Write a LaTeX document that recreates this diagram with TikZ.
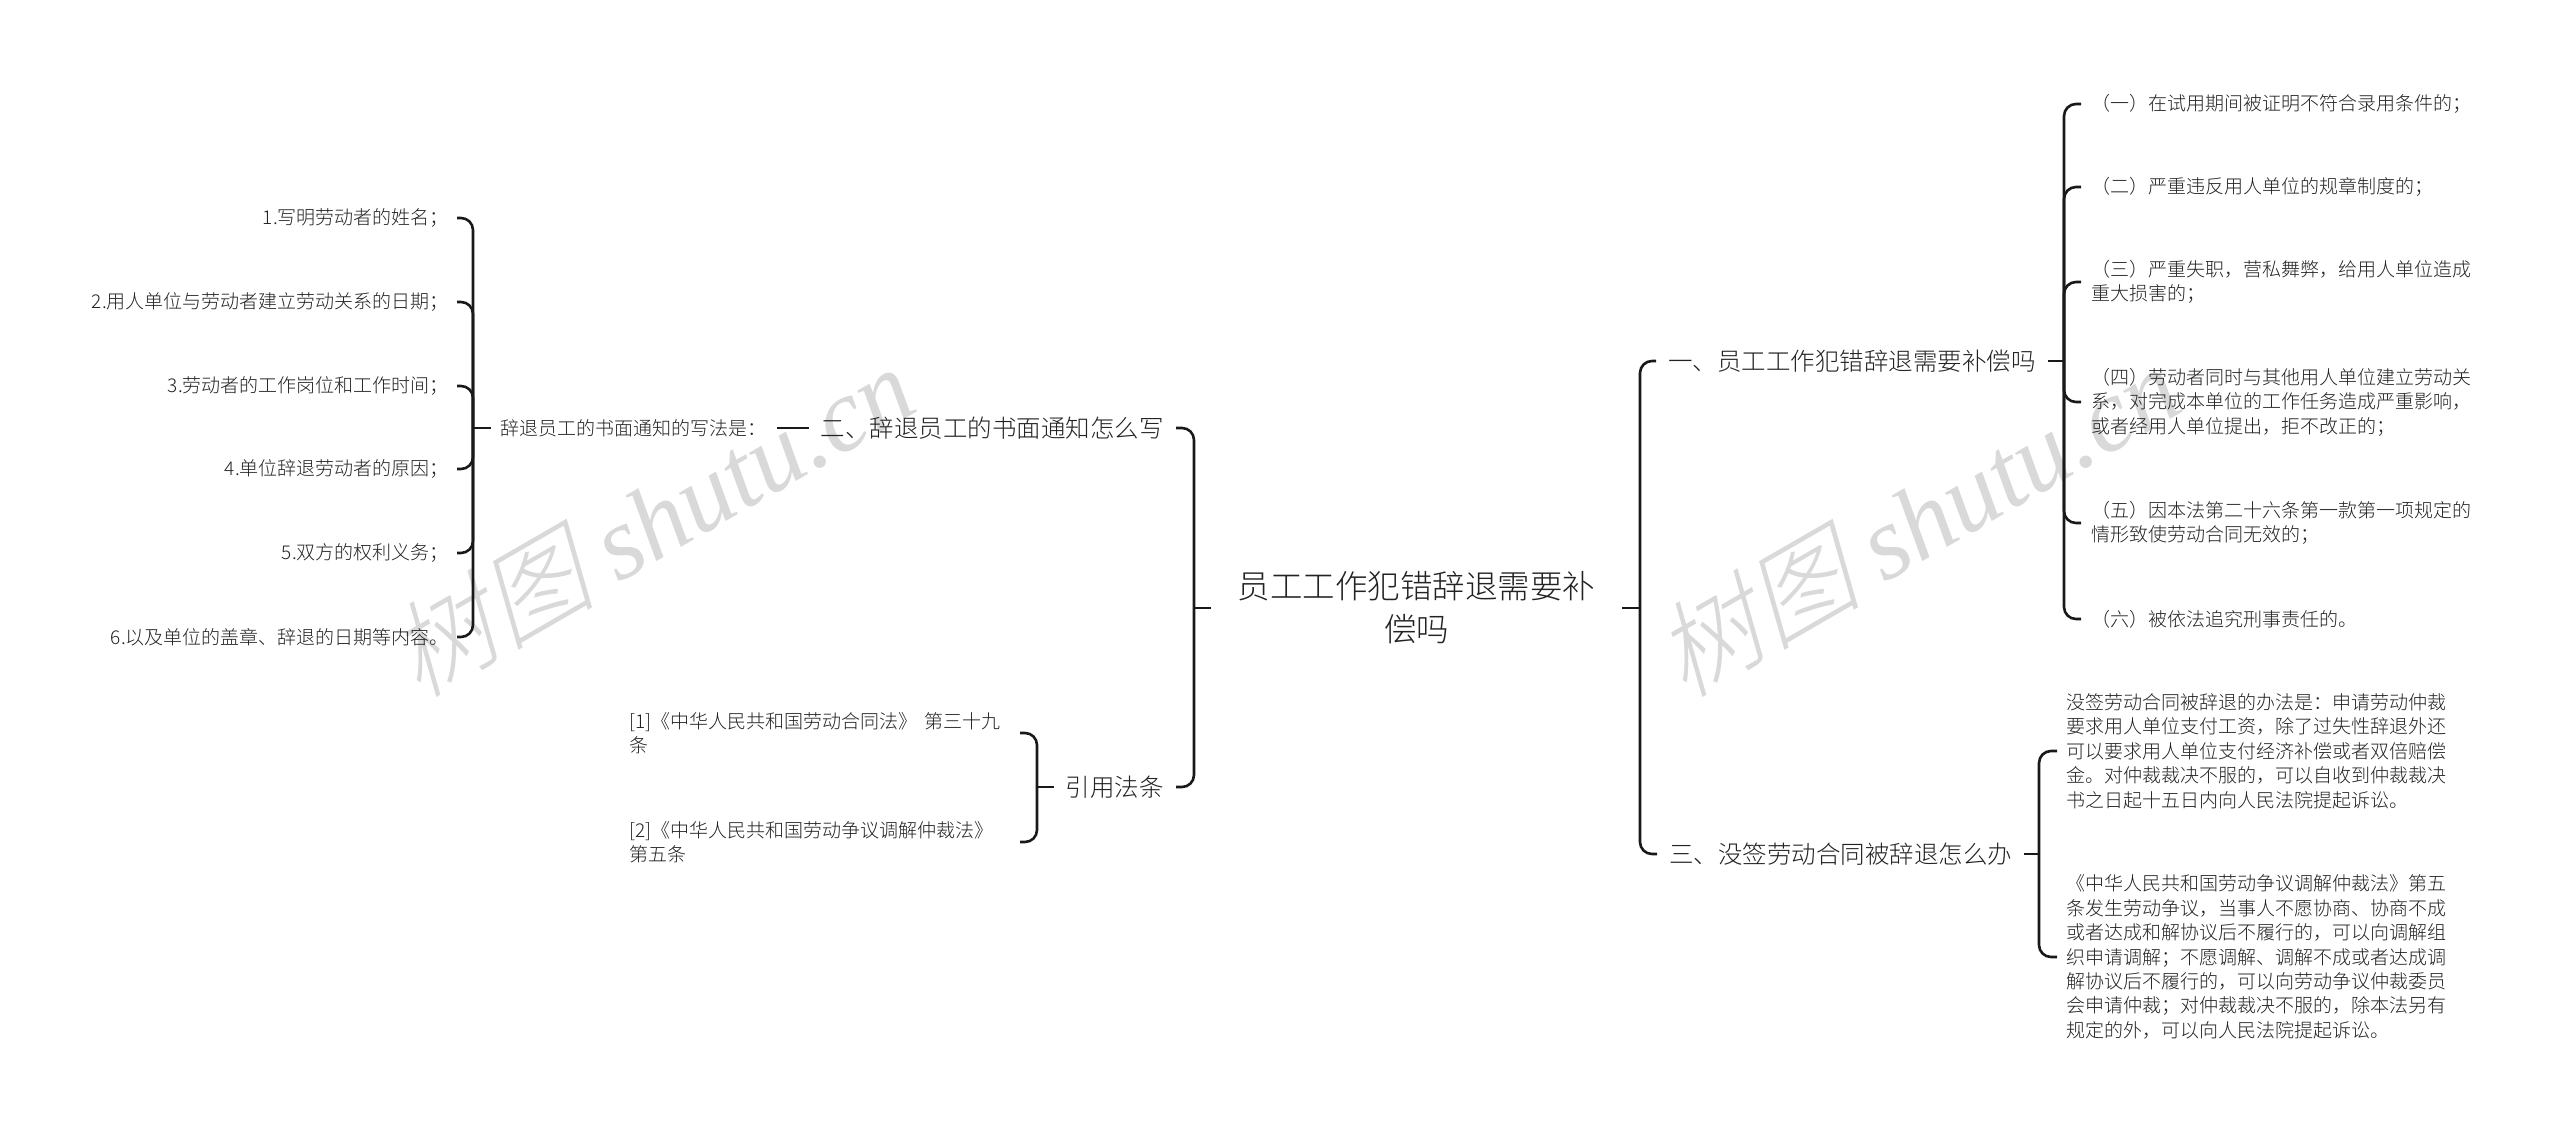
\documentclass[tikz,border=0pt]{standalone}
\usepackage{fontspec}
\usepackage{xcolor}
\setmainfont{Noto Sans CJK SC Light}
\newfontfamily\wmcjk[FakeSlant=0.25]{Noto Sans CJK SC Light}
\newfontfamily\wmlat{Liberation Serif}
\definecolor{inkgrey}{HTML}{222222}
\definecolor{wmgrey}{HTML}{D9D9D9}

\begin{document}
\begin{tikzpicture}[-, x=1pt, y=-1pt, text=inkgrey,
		conn/.style={draw=black!90, line width=2.6pt, rounded corners=12pt},
		rootnode/.style={font=\fontsize{32.5}{43}\selectfont, align=center, minimum width=411pt, inner sep=0pt},
		branch/.style={font=\fontsize{24.5}{30}\selectfont, inner xsep=12pt, inner ysep=0pt},
		leaf/.style={font=\fontsize{19}{24.4}\selectfont, align=left, text width=380pt, inner xsep=10pt, inner ysep=0pt},
		item/.style={font=\fontsize{19}{24.4}\selectfont, anchor=east, inner xsep=8pt, inner ysep=0pt},
		wmark/.style={text=wmgrey, rotate=30, inner sep=0pt, font=\fontsize{104}{110}\selectfont}]
		\useasboundingbox (0,0) rectangle (2560,1133);
		
		\node[wmark] (w1) at (650,520) {{\wmcjk 树图} {\wmlat\itshape shutu.cn}};
		\node[wmark] (w2) at (1916,520) {{\wmcjk 树图} {\wmlat\itshape shutu.cn}};
		
		\node[rootnode] (r0) at (1416.5,608) {员工工作犯错辞退需要补\\偿吗};
		\coordinate (ls) at (1194,608);
		\coordinate (rs) at (1640,608);
		
		\node[branch, anchor=east] (b0) at (1176,428) {二、辞退员工的书面通知怎么写};
		\node[branch, anchor=east] (b1) at (1176,787) {引用法条};
		\node[branch, anchor=west] (r1) at (1656,361) {一、员工工作犯错辞退需要补偿吗};
		\node[branch, anchor=west] (r3) at (1657,854) {三、没签劳动合同被辞退怎么办};
		
		\node[item, inner xsep=10pt] (a0) at (777,428) {辞退员工的书面通知的写法是：};
		\coordinate (as) at (473,428);
		\node[item] (a1) at (457,218) {1.写明劳动者的姓名；};
		\node[item] (a2) at (457,302) {2.用人单位与劳动者建立劳动关系的日期；};
		\node[item] (a3) at (457,386) {3.劳动者的工作岗位和工作时间；};
		\node[item] (a4) at (457,469) {4.单位辞退劳动者的原因；};
		\node[item] (a5) at (457,553) {5.双方的权利义务；};
		\node[item] (a6) at (457,637) {6.以及单位的盖章、辞退的日期等内容。};
		
		\coordinate (cs) at (1037,787);
		\node[leaf, anchor=east] (c1) at (1020,733) {[1]《中华人民共和国劳动合同法》 第三十九\\条};
		\node[leaf, anchor=east] (c2) at (1020,842) {[2]《中华人民共和国劳动争议调解仲裁法》\\第五条};
		
		\coordinate (ts) at (2064,361);
		\node[leaf, anchor=west] (t1) at (2081,104) {（一）在试用期间被证明不符合录用条件的；};
		\node[leaf, anchor=west] (t2) at (2081,187) {（二）严重违反用人单位的规章制度的；};
		\node[leaf, anchor=west] (t3) at (2081,282) {（三）严重失职，营私舞弊，给用人单位造成\\重大损害的；};
		\node[leaf, anchor=west] (t4) at (2081,402) {（四）劳动者同时与其他用人单位建立劳动关\\系，对完成本单位的工作任务造成严重影响，\\或者经用人单位提出，拒不改正的；};
		\node[leaf, anchor=west] (t5) at (2081,523) {（五）因本法第二十六条第一款第一项规定的\\情形致使劳动合同无效的；};
		\node[leaf, anchor=west] (t6) at (2081,619) {（六）被依法追究刑事责任的。};
		
		\coordinate (us) at (2039,854);
		\node[leaf, anchor=west, inner xsep=9pt] (u1) at (2057,751) {没签劳动合同被辞退的办法是：申请劳动仲裁\\要求用人单位支付工资，除了过失性辞退外还\\可以要求用人单位支付经济补偿或者双倍赔偿\\金。对仲裁裁决不服的，可以自收到仲裁裁决\\书之日起十五日内向人民法院提起诉讼。};
		\node[leaf, anchor=west, inner xsep=9pt] (u2) at (2057,957) {《中华人民共和国劳动争议调解仲裁法》第五\\条发生劳动争议，当事人不愿协商、协商不成\\或者达成和解协议后不履行的，可以向调解组\\织申请调解；不愿调解、调解不成或者达成调\\解协议后不履行的，可以向劳动争议仲裁委员\\会申请仲裁；对仲裁裁决不服的，除本法另有\\规定的外，可以向人民法院提起诉讼。};
		
		\draw[conn] (r0.west) -- (ls);
		\draw[conn] (r0.east) -- (rs);
		\draw[conn] (b0.east) -| (ls);
		\draw[conn] (b1.east) -| (ls);
		\draw[conn] (r1.west) -| (rs);
		\draw[conn] (r3.west) -| (rs);
		
		\draw[conn] (b0.west) -- (a0.east);
		\draw[conn] (a0.west) -- (as);
		\draw[conn] (a1.east) -| (as);
		\draw[conn] (a2.east) -| (as);
		\draw[conn] (a3.east) -| (as);
		\draw[conn] (a4.east) -| (as);
		\draw[conn] (a5.east) -| (as);
		\draw[conn] (a6.east) -| (as);
		
		\draw[conn] (b1.west) -- (cs);
		\draw[conn] (c1.east) -| (cs);
		\draw[conn] (c2.east) -| (cs);
		
		\draw[conn] (r1.east) -- (ts);
		\draw[conn] (t1.west) -| (ts);
		\draw[conn] (t2.west) -| (ts);
		\draw[conn] (t3.west) -| (ts);
		\draw[conn] (t4.west) -| (ts);
		\draw[conn] (t5.west) -| (ts);
		\draw[conn] (t6.west) -| (ts);
		
		\draw[conn] (r3.east) -- (us);
		\draw[conn] (u1.west) -| (us);
		\draw[conn] (u2.west) -| (us);
		
\end{tikzpicture}
\end{document}
